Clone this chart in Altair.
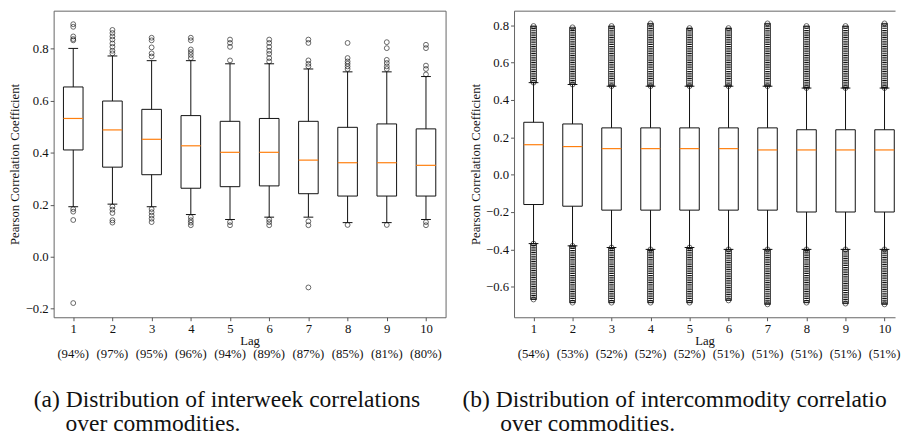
import altair as alt
import pandas as pd

FONT = "Liberation Serif"

lags = [1, 2, 3, 4, 5, 6, 7, 8, 9, 10]

# ---- panel (a): interweek correlations ----
a_q1 = [0.410, 0.344, 0.315, 0.263, 0.269, 0.272, 0.242, 0.233, 0.233, 0.233]
a_med = [0.531, 0.487, 0.451, 0.426, 0.401, 0.401, 0.371, 0.361, 0.361, 0.351]
a_q3 = [0.652, 0.598, 0.566, 0.542, 0.520, 0.531, 0.520, 0.497, 0.510, 0.491]
a_lo = [0.192, 0.202, 0.192, 0.162, 0.143, 0.152, 0.152, 0.131, 0.131, 0.143]
a_hi = [0.800, 0.771, 0.753, 0.753, 0.741, 0.741, 0.721, 0.710, 0.710, 0.692]
a_pct = [94, 97, 95, 96, 94, 89, 87, 85, 81, 80]
a_outliers = {
    1: [0.893, 0.883, 0.846, 0.836, 0.831, 0.183, 0.173, 0.141, -0.178],
    2: [0.871, 0.859, 0.846, 0.834, 0.819, 0.806, 0.791, 0.781, 0.193, 0.181, 0.168, 0.140, 0.131],
    3: [0.841, 0.831, 0.804, 0.781, 0.769, 0.183, 0.171, 0.158, 0.146, 0.133],
    4: [0.841, 0.831, 0.796, 0.786, 0.775, 0.763, 0.152, 0.140, 0.131, 0.121],
    5: [0.834, 0.821, 0.806, 0.754, 0.133, 0.121],
    6: [0.834, 0.821, 0.806, 0.791, 0.779, 0.763, 0.750, 0.143, 0.133, 0.121],
    7: [0.834, 0.821, 0.754, 0.741, 0.731, 0.136, 0.121, -0.118],
    8: [0.821, 0.763, 0.750, 0.741, 0.731, 0.721, 0.122],
    9: [0.824, 0.801, 0.756, 0.744, 0.731, 0.721, 0.122],
    10: [0.814, 0.801, 0.734, 0.721, 0.700, 0.133, 0.121],
}
a_caption = ["(a) Distribution of interweek correlations", "over commodities."]

# ---- panel (b): intercommodity correlations ----
b_q1 = [-0.160, -0.169, -0.190, -0.190, -0.190, -0.190, -0.190, -0.200, -0.200, -0.200]
b_med = [0.160, 0.150, 0.139, 0.139, 0.139, 0.139, 0.132, 0.132, 0.132, 0.132]
b_q3 = [0.280, 0.271, 0.250, 0.250, 0.250, 0.250, 0.250, 0.240, 0.240, 0.240]
b_lo = [-0.369, -0.381, -0.390, -0.400, -0.390, -0.400, -0.400, -0.400, -0.400, -0.400]
b_hi = [0.492, 0.482, 0.473, 0.473, 0.473, 0.473, 0.473, 0.463, 0.463, 0.463]
b_out_max = [0.795, 0.788, 0.795, 0.809, 0.784, 0.784, 0.809, 0.795, 0.795, 0.809]
b_out_min = [-0.668, -0.685, -0.685, -0.685, -0.685, -0.673, -0.694, -0.685, -0.690, -0.694]
b_pct = [54, 53, 52, 52, 52, 51, 51, 51, 51, 51]
b_caption = ["(b) Distribution of intercommodity correlations", "over commodities."]

Y_TITLE = "Pearson Correlation Coefficient"
X_TITLE = "Lag"
H = 309
FRAME = "#666"


def panel(q1, med, q3, lo, hi, pct, outlier_pts, bands, domain, xdomain, yticks,
          width, caption, cap_x1, cap_x2, title_x, cap_limit, open_right):
    df = pd.DataFrame({"lag": lags, "q1": q1, "med": med, "q3": q3,
                       "lo": lo, "hi": hi,
                       "pct": ["(%d%%)" % p for p in pct]})
    base = alt.Chart(df).transform_calculate(
        bl="datum.lag - 0.25", br="datum.lag + 0.25",
        cl="datum.lag - 0.125", cr="datum.lag + 0.125")

    xaxis = dict(values=lags, format="d", title=X_TITLE, titleY=23,
                 titleBaseline="middle")
    yaxis = dict(values=yticks, format=".1f", title=Y_TITLE, titleX=title_x,
                 titleBaseline="middle")
    if open_right:
        xaxis.update(domain=True, domainColor=FRAME, domainWidth=1)
        yaxis.update(domain=True, domainColor=FRAME, domainWidth=1)
    xs = alt.X("bl:Q", scale=alt.Scale(domain=xdomain, nice=False, zero=False),
               axis=alt.Axis(**xaxis))
    ys = alt.Y("q1:Q", scale=alt.Scale(domain=domain, nice=False, zero=False),
               axis=alt.Axis(**yaxis))

    layers = [base.mark_rect(fill="white", stroke="#111", strokeWidth=1).encode(
        x=xs, x2="br:Q", y=ys, y2="q3:Q")]
    if bands is not None:
        bdf = pd.DataFrame({"lag": lags, "hi": hi, "lo": lo,
                            "omax": bands[0], "omin": bands[1]})
        bb = alt.Chart(bdf).transform_calculate(
            l="datum.lag - 0.075", r="datum.lag + 0.075")
        for a, b in (("hi", "omax"), ("omin", "lo")):
            layers.append(bb.mark_rect(fill="white", stroke="#222", strokeWidth=0.9).encode(
                x="l:Q", x2="r:Q", y=f"{a}:Q", y2=f"{b}:Q"))
            layers.append(bb.mark_rule(color="#111", strokeWidth=4.6,
                                       strokeDash=[1.0, 0.8]).encode(
                x="lag:Q", y=f"{a}:Q", y2=f"{b}:Q"))

    layers += [
        base.mark_rule(color="#111", strokeWidth=1).encode(x="lag:Q", y="lo:Q", y2="q1:Q"),
        base.mark_rule(color="#111", strokeWidth=1).encode(x="lag:Q", y="q3:Q", y2="hi:Q"),
        base.mark_rule(color="#111", strokeWidth=1).encode(x="cl:Q", x2="cr:Q", y="lo:Q"),
        base.mark_rule(color="#111", strokeWidth=1).encode(x="cl:Q", x2="cr:Q", y="hi:Q"),
        base.mark_rule(color="#ff7f0e", strokeWidth=1.2).encode(
            x="bl:Q", x2="br:Q", y="med:Q"),
    ]
    odf = pd.DataFrame(outlier_pts, columns=["lag", "v"])
    layers.append(alt.Chart(odf).mark_point(shape="circle", filled=False, size=24,
                                            color="#111", strokeWidth=0.9).encode(
        x="lag:Q", y="v:Q"))
    layers.append(base.mark_text(font=FONT, fontSize=12.8, color="#111",
                                 baseline="middle").encode(
        x="lag:Q", y=alt.value(H + 37), text="pct:N"))
    cdf1 = pd.DataFrame({"t": [caption[0]]})
    cdf2 = pd.DataFrame({"t": [caption[1]]})
    cap_kw = dict(font=FONT, fontSize=23.7, color="#111", align="left",
                  baseline="alphabetic")
    if cap_limit:
        cap_kw.update(limit=cap_limit, ellipsis="\u200b")
    layers.append(alt.Chart(cdf1).mark_text(**cap_kw).encode(
        x=alt.value(cap_x1), y=alt.value(399), text="t:N"))
    layers.append(alt.Chart(cdf2).mark_text(**cap_kw).encode(
        x=alt.value(cap_x2), y=alt.value(423.5), text="t:N"))
    main = alt.layer(*layers)
    if open_right:
        top = base.mark_point(opacity=0).encode(
            x=alt.X("lag:Q", axis=alt.Axis(orient="top", labels=False, ticks=False,
                                           domain=True, domainColor=FRAME,
                                           domainWidth=1, title="")),
            y="med:Q")
        return alt.layer(main, top).resolve_axis(x="independent").properties(
            width=width, height=H, view=alt.ViewBackground(stroke="transparent"))
    return main.properties(width=width, height=H)


a_pts = [(lag, v) for lag, vals in a_outliers.items() for v in vals]
b_pts = [(lag, v) for lag, v in zip(lags, b_out_max)] + \
        [(lag, v) for lag, v in zip(lags, b_out_min)] + \
        [(lag, v) for lag, v in zip(lags, b_hi)] + \
        [(lag, v) for lag, v in zip(lags, b_lo)]

left = panel(a_q1, a_med, a_q3, a_lo, a_hi, a_pct, a_pts, None,
             [-0.2325, 0.945], [0.5, 10.5], [-0.2, 0.0, 0.2, 0.4, 0.6, 0.8], 395,
             a_caption, -20, 12, -39, None, False)
right = panel(b_q1, b_med, b_q3, b_lo, b_hi, b_pct, b_pts, (b_out_max, b_out_min),
              [-0.763, 0.877], [0.5, 10.27],
              [-0.6, -0.4, -0.2, 0.0, 0.2, 0.4, 0.6, 0.8], 384,
              b_caption, -52, -14, -39, 436, True)

chart = alt.hconcat(left, right, spacing=69, bounds="flush").resolve_scale(
    y="independent").configure_view(stroke=FRAME, strokeWidth=1).configure_axis(
    grid=False, domain=False, tickSize=3.5, tickColor="#444", tickWidth=0.9,
    labelPadding=2, labelFont=FONT, labelFontSize=12.8, labelColor="#111",
    titleFont=FONT, titleFontSize=12.8, titleFontWeight="normal", titleColor="#111",
).properties(
    padding={"left": 0, "top": 0, "right": 0, "bottom": 0},
    background="white")

chart.save("out.html", embed_options={"renderer": "svg", "actions": False})
